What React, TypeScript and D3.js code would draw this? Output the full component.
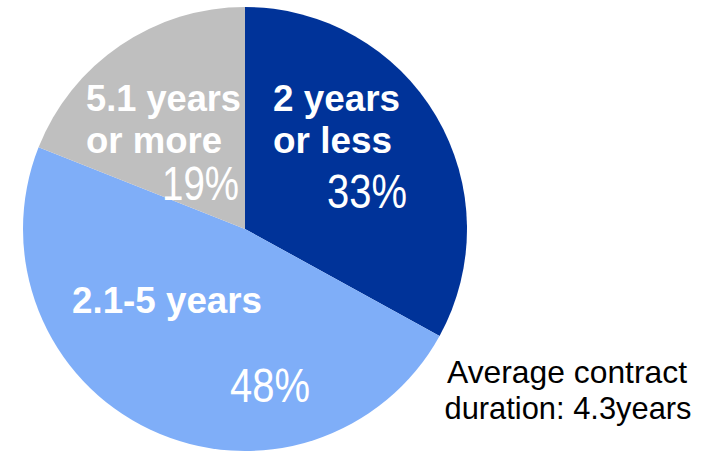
import React from "react";
import * as d3 from "d3";

const categories = ["2 years or less", "2.1-5 years", "5.1 years or more"];
const shares = [33, 48, 19];
const colors = ["#003399", "#7FAEF8", "#BFBFBF"];
const percentLabels = ["33%", "48%", "19%"];
const note = ["Average contract", "duration: 4.3years"];

const W = 707;
const H = 451;
const cx = 245;
const cy = 229;
const R = 222;

export default function App() {
  const pie = d3.pie<number>().sort(null).value((d) => d);
  const arcs = pie(shares);
  const arc = d3.arc<d3.PieArcDatum<number>>().innerRadius(0).outerRadius(R);

  const bold: React.CSSProperties = {
    fontFamily: "Arial, 'Liberation Sans', sans-serif",
    fontWeight: 700,
    fontSize: 36,
    fill: "#fff",
  };
  const pct: React.CSSProperties = {
    fontFamily: "Arial, 'Liberation Sans', sans-serif",
    fontWeight: 400,
    fontSize: 49,
    fill: "#fff",
  };

  return (
    <svg
      width={W}
      height={H}
      viewBox={`0 0 ${W} ${H}`}
      style={{ position: "absolute", left: 0, top: 0, background: "#fff" }}
    >
      <g transform={`translate(${cx},${cy})`}>
        {arcs.map((a, i) => (
          <path key={categories[i]} d={arc(a) || ""} fill={colors[i]} />
        ))}
      </g>
      {/* 2 years or less */}
      <text x={273} y={111} style={bold} textLength={127} lengthAdjust="spacingAndGlyphs">2 years</text>
      <text x={273} y={153} style={bold} textLength={119} lengthAdjust="spacingAndGlyphs">or less</text>
      <text x={327} y={208} style={pct} textLength={80} lengthAdjust="spacingAndGlyphs">{percentLabels[0]}</text>
      {/* 5.1 years or more */}
      <text x={86} y={111} style={bold} textLength={155} lengthAdjust="spacingAndGlyphs">5.1 years</text>
      <text x={86} y={153} style={bold} textLength={136} lengthAdjust="spacingAndGlyphs">or more</text>
      <text x={162} y={200} style={pct} textLength={77} lengthAdjust="spacingAndGlyphs">{percentLabels[2]}</text>
      {/* 2.1-5 years */}
      <text x={72} y={313} style={bold} textLength={190} lengthAdjust="spacingAndGlyphs">2.1-5 years</text>
      <text x={230} y={402} style={pct} textLength={80} lengthAdjust="spacingAndGlyphs">{percentLabels[1]}</text>
      {/* note */}
      <text
        x={567}
        y={383}
        textAnchor="middle"
        style={{ fontFamily: "Arial, 'Liberation Sans', sans-serif", fontSize: 32, fill: "#000" }}
        textLength={240}
        lengthAdjust="spacingAndGlyphs"
      >
        {note[0]}
      </text>
      <text
        x={568}
        y={419}
        textAnchor="middle"
        style={{ fontFamily: "Arial, 'Liberation Sans', sans-serif", fontSize: 32, fill: "#000" }}
        textLength={247}
        lengthAdjust="spacingAndGlyphs"
      >
        {note[1]}
      </text>
    </svg>
  );
}
